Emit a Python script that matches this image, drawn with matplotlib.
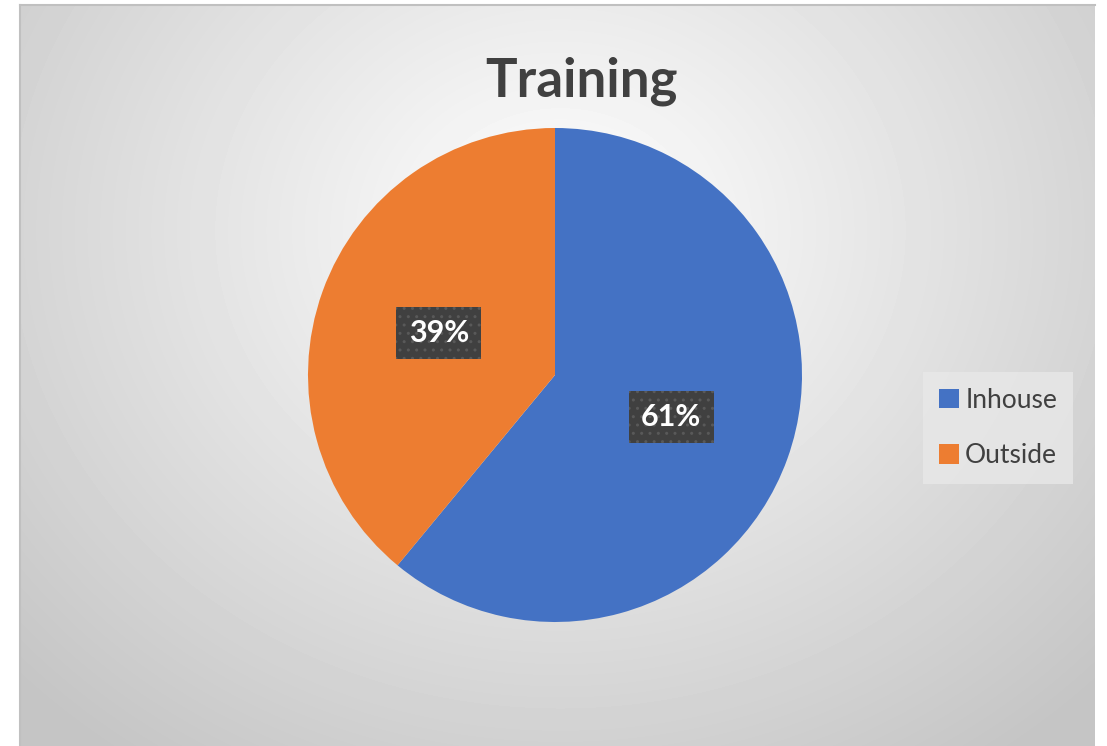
import numpy as np
import matplotlib.pyplot as plt

plt.rcParams['font.family'] = ['Lato', 'DejaVu Sans']

labels = ['Inhouse', 'Outside']
shares = [61, 39]
colors = ['#4472C4', '#ED7D31']
title = 'Training'

W, H = 1107, 746
fig = plt.figure(figsize=(W / 100, H / 100), dpi=100)
fig.patch.set_facecolor('white')

# chart area with radial grey gradient
x0, y0, x1, y1 = 20, 5, 1095, 746
bg = fig.add_axes([x0 / W, 1 - y1 / H, (x1 - x0) / W, (y1 - y0) / H])
yy, xx = np.mgrid[y0:y1, x0:x1]
d = np.hypot(xx - 560, (yy - 230) * 1.15)
shade = np.clip(1.0 - d / 720 * 0.22, 0.77, 1.0)
bg.imshow(shade, cmap='gray', vmin=0, vmax=1, aspect='auto', interpolation='bilinear')
bg.set_xticks([])
bg.set_yticks([])
for side in ['right', 'bottom']:
    bg.spines[side].set_visible(False)
for side in ['top', 'left']:
    bg.spines[side].set_color('#c0c0c0')
    bg.spines[side].set_linewidth(1.5)

# pie axes: centre (555, 375), radius 247 px
cx, cy, r = 555, 375, 247
ax = fig.add_axes([(cx - r) / W, 1 - (cy + r) / H, 2 * r / W, 2 * r / H])
wedges, _ = ax.pie(shares, colors=colors, startangle=90, counterclock=False,
                   radius=1.0, wedgeprops=dict(linewidth=0))
ax.set_xlim(-1, 1)
ax.set_ylim(-1, 1)
ax.set_aspect('equal')
ax.axis('off')

# data labels in dark boxes
ang = 90
for share, w in zip(shares, wedges):
    mid = np.deg2rad(ang - share * 3.6 / 2)
    ang -= share * 3.6
    px, py = 0.5 * np.cos(mid), 0.5 * np.sin(mid)
    ax.text(px, py, f'{share}%', ha='center', va='center', color='white',
            fontsize=22, fontweight='bold',
            bbox=dict(boxstyle='square,pad=0.4', fc='#404040', ec='#595959',
                      lw=0, hatch='..'))

fig.text(581 / W, 1 - 96 / H, title, ha='center', va='baseline',
         fontsize=38, fontweight='bold', color='#404040')

leg = fig.legend(wedges, labels, loc='upper left',
                 bbox_to_anchor=(923 / W, 1 - 372 / H),
                 frameon=True, fancybox=False, fontsize=19,
                 handlelength=0.75, handleheight=0.75, handletextpad=0.25,
                 labelspacing=1.15, borderpad=0.6, borderaxespad=0,
                 labelcolor='#404040')
leg.get_frame().set_facecolor('#e8e8e8')
leg.get_frame().set_edgecolor('none')
leg.get_frame().set_alpha(0.8)

fig.savefig('out.png', dpi=100)
